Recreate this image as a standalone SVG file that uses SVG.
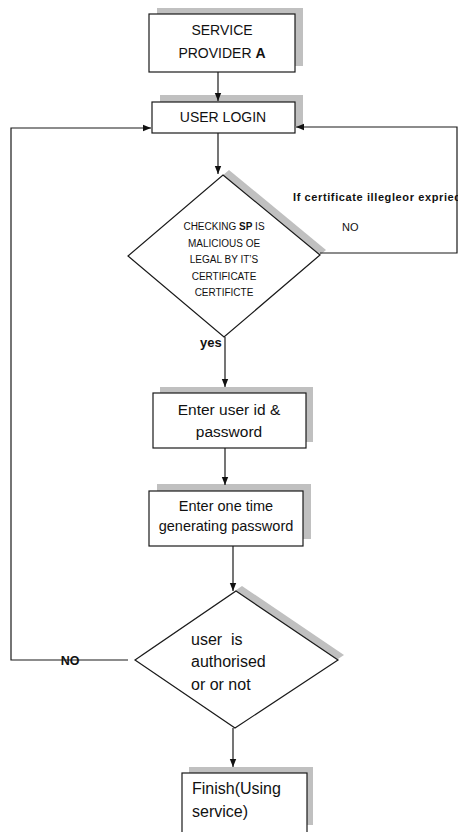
<svg xmlns="http://www.w3.org/2000/svg" width="462" height="832" viewBox="0 0 462 832">
<style>
.box{fill:#fff;stroke:#1a1a1a;stroke-width:1.2}
.sh{fill:#c0c0c0;stroke:none}
.ln{fill:none;stroke:#1a1a1a;stroke-width:1.2}
text{font-family:"Liberation Sans",Arial,sans-serif;fill:#111}
.c{text-anchor:middle}
.b{font-weight:bold}
</style>
<defs>
<marker id="ah" markerUnits="userSpaceOnUse" markerWidth="8" markerHeight="8" viewBox="0 0 8 8" refX="8" refY="4" orient="auto">
<path d="M0,0.8 L8,4 L0,7.2 Z" fill="#111"/>
</marker>
<clipPath id="clipR"><rect x="0" y="0" width="458" height="832"/></clipPath>
</defs>

<g id="service-provider">
<rect class="sh" x="157" y="8" width="146" height="58"/>
<rect class="box" x="149" y="14" width="146" height="58"/>
<text x="222" y="35" font-size="14" class="c">SERVICE</text>
<text x="222" y="58" font-size="14" class="c">PROVIDER <tspan class="b">A</tspan></text>
</g>

<g id="user-login">
<rect class="sh" x="160" y="95" width="143" height="31"/>
<rect class="box" x="152" y="102" width="143" height="31"/>
<text x="223" y="122" font-size="14" class="c">USER LOGIN</text>
</g>

<g id="check-certificate">
<polygon class="sh" points="229,170 326,250 230,332 134,251"/>
<polygon class="box" points="223,175 320,255 224,337 128,256"/>
<text x="224" y="229.5" font-size="10" class="c">CHECKING <tspan class="b">SP</tspan> IS</text>
<text x="224" y="246.5" font-size="10" class="c">MALICIOUS OE</text>
<text x="224" y="262.5" font-size="10" class="c">LEGAL BY IT’S</text>
<text x="224" y="279.5" font-size="10" class="c">CERTIFICATE</text>
<text x="224" y="295.5" font-size="10" class="c">CERTIFICTE</text>
</g>

<g id="enter-user-id">
<rect class="sh" x="160" y="387" width="153" height="55"/>
<rect class="box" x="153" y="393" width="153" height="55"/>
<text x="229" y="415" font-size="15.5" class="c">Enter user id &amp;</text>
<text x="229" y="437" font-size="15.5" class="c">password</text>
</g>

<g id="enter-otp">
<rect class="sh" x="157" y="484" width="154" height="55"/>
<rect class="box" x="149" y="491" width="154" height="55"/>
<text x="226" y="511" font-size="14.5" class="c">Enter one time</text>
<text x="226" y="531" font-size="14.5" class="c">generating password</text>
</g>

<g id="user-authorised">
<polygon class="sh" points="242,586 344,655 241,723 141,655"/>
<polygon class="box" points="236,591 338,660 235,728 135,660"/>
<text x="191" y="645" font-size="16" xml:space="preserve">user  is</text>
<text x="191" y="667" font-size="16">authorised</text>
<text x="191" y="690" font-size="16">or or not</text>
</g>

<g id="finish">
<rect class="sh" x="189" y="767" width="124" height="58"/>
<rect class="box" x="182" y="773" width="125" height="62"/>
<text x="192" y="794" font-size="16">Finish(Using</text>
<text x="192" y="817" font-size="16">service)</text>
</g>

<g id="connectors">
<line class="ln" x1="218" y1="72" x2="218" y2="101" marker-end="url(#ah)"/>
<line class="ln" x1="218" y1="133" x2="218" y2="174" marker-end="url(#ah)"/>
<polyline class="ln" points="320,253 457,253 457,127 296,127" marker-end="url(#ah)"/>
<line class="ln" x1="225" y1="337" x2="225" y2="387" marker-end="url(#ah)"/>
<line class="ln" x1="225" y1="448" x2="225" y2="485" marker-end="url(#ah)"/>
<line class="ln" x1="233" y1="546" x2="233" y2="591" marker-end="url(#ah)"/>
<polyline class="ln" points="128,660 11,660 11,128 151,128" marker-end="url(#ah)"/>
<line class="ln" x1="233" y1="728" x2="233" y2="767" marker-end="url(#ah)"/>
<text x="293" y="201" font-size="11" class="b" clip-path="url(#clipR)" textLength="168" lengthAdjust="spacing">If certificate illegleor expried</text>
<text x="342" y="231" font-size="11">NO</text>
<text x="200" y="347" font-size="13" class="b">yes</text>
<text x="70" y="664.5" font-size="12.5" class="b c">NO</text>
</g>
</svg>
